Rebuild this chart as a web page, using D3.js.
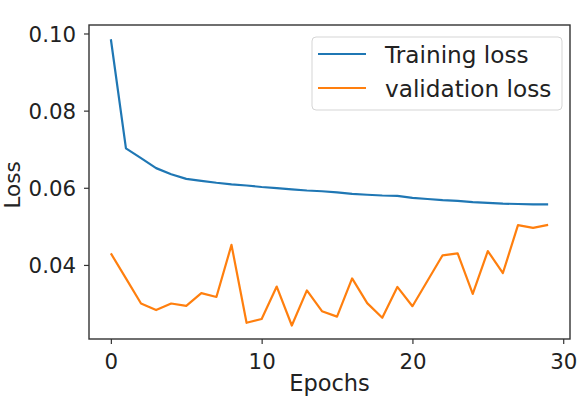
<!DOCTYPE html>
<html><head><meta charset="utf-8">
<script src="https://cdn.jsdelivr.net/npm/d3@7"></script>
<style>body{margin:0;background:#fff;font-family:"DejaVu Sans",sans-serif;}</style>
</head><body><svg id="c" width="578" height="398"></svg>
<script>
const epochs = d3.range(0, 30);
const trainingLoss = [0.0985,0.0702,0.0677,0.0651,0.0635,0.0623,0.0618,0.0613,0.0609,0.0606,
  0.0602,0.0599,0.0596,0.0593,0.0591,0.0588,0.0584,0.0582,0.0580,0.0579,
  0.0574,0.0571,0.0568,0.0566,0.0563,0.0561,0.0559,0.0558,0.0557,0.0557];
const validationLoss = [0.0430,0.0365,0.0300,0.0283,0.0300,0.0294,0.0327,0.0317,0.0452,0.0250,
  0.0260,0.0344,0.0243,0.0334,0.0280,0.0266,0.0365,0.0301,0.0263,0.0343,
  0.0293,0.0359,0.0425,0.0430,0.0325,0.0436,0.0379,0.0503,0.0496,0.0504];
const xTicks = [0,10,20,30];
const yTicks = [0.04,0.06,0.08,0.10];
const seriesNames = ["Training loss","validation loss"];
const colors = ["#1f77b4","#ff7f0e"];

const L=89,R=570,T=25,B=339;
const svg=d3.select("#c");
const x=d3.scaleLinear().domain([-1.45,30.45]).range([L,R]);
const y=d3.scaleLinear().domain([0.0208,0.1022]).range([B,T]);

const line=d3.line().x((d,i)=>x(epochs[i])).y(d=>y(d));
[trainingLoss,validationLoss].forEach((s,k)=>{
  svg.append("path").datum(s).attr("d",line).attr("fill","none")
    .attr("stroke",colors[k]).attr("stroke-width",2.2).attr("stroke-linejoin","round");
});

const fs=21.3;
const xa=svg.append("g").attr("transform",`translate(0,${B})`)
  .call(d3.axisBottom(x).tickValues(xTicks).tickSize(5).tickPadding(5).tickFormat(d3.format("d")));
const ya=svg.append("g").attr("transform",`translate(${L},0)`)
  .call(d3.axisLeft(y).tickValues(yTicks).tickSize(5).tickPadding(8).tickFormat(d3.format(".2f")));
[xa,ya].forEach(a=>{
  a.select(".domain").remove();
  a.selectAll("line").attr("stroke","#333").attr("stroke-width",1.2);
  a.selectAll("text").attr("font-family","DejaVu Sans").attr("font-size",fs).attr("fill","#222");
});
ya.selectAll("text").attr("dy","0.36em");
xa.selectAll("text").attr("dy","0.92em");

svg.append("rect").attr("x",L).attr("y",T).attr("width",R-L).attr("height",B-T)
  .attr("fill","none").attr("stroke","#333").attr("stroke-width",1.4);

svg.append("text").attr("x",(L+R)/2).attr("y",391).attr("text-anchor","middle")
  .attr("font-size",22.5).attr("fill","#222").text("Epochs");
svg.append("text").attr("transform",`translate(20,${(T+B)/2+3}) rotate(-90)`).attr("text-anchor","middle")
  .attr("font-size",21.5).attr("fill","#222").text("Loss");

const lg=svg.append("g");
lg.append("rect").attr("x",312).attr("y",37).attr("width",250).attr("height",73).attr("rx",4)
  .attr("fill","#fff").attr("fill-opacity",0.8).attr("stroke","#d5d5d5").attr("stroke-width",1);
seriesNames.forEach((n,k)=>{
  const yy=54+k*34;
  lg.append("line").attr("x1",318).attr("x2",366).attr("y1",yy).attr("y2",yy)
    .attr("stroke",colors[k]).attr("stroke-width",2.2);
  lg.append("text").attr("x",385).attr("y",yy+9).attr("font-size",23.2).attr("fill","#222").text(n);
});
</script></body></html>
